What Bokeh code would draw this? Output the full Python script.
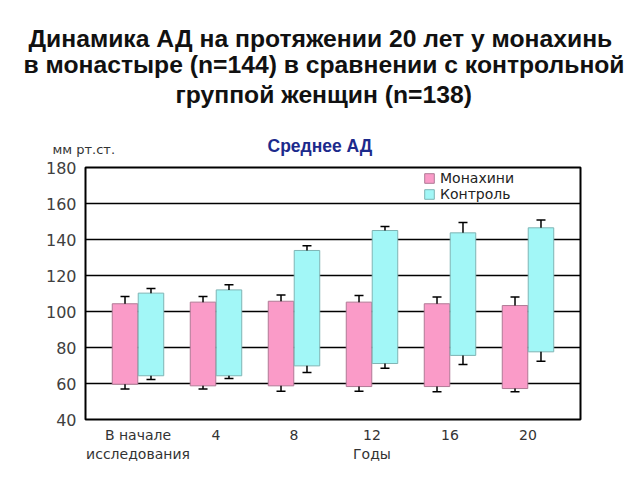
from bokeh.plotting import figure
from bokeh.models import (ColumnDataSource, Range1d, FixedTicker, Legend,
                          LegendItem, Whisker, TeeHead, Title)
from bokeh.transform import dodge
from bokeh.embed import file_html
from bokeh.resources import INLINE

# ---- data ----
categories = ["В начале\nисследования", "4", "8", "12", "16", "20"]
nuns_top = [104.3, 105.2, 105.7, 105.2, 104.3, 103.3]
nuns_bottom = [59.6, 58.7, 58.7, 58.3, 58.3, 57.2]
nuns_err_top = [108.3, 108.3, 109.1, 108.9, 108.0, 108.0]
nuns_err_bottom = [56.9, 56.9, 55.7, 55.7, 55.4, 55.4]
ctrl_top = [110.2, 112.0, 133.9, 145.0, 143.7, 146.5]
ctrl_bottom = [64.3, 64.3, 69.8, 71.1, 75.6, 77.6]
ctrl_err_top = [112.8, 114.8, 136.5, 147.2, 149.4, 150.9]
ctrl_err_bottom = [62.2, 62.8, 66.1, 68.5, 70.6, 72.4]
y_ticks = [40, 60, 80, 100, 120, 140, 160, 180]
x_title = "Годы"
y_title = "мм рт.ст."
sub_title = "Среднее АД"
title_lines = ["Динамика АД на протяжении 20 лет у монахинь",
               "в монастыре (n=144)  в сравнении с контрольной",
               "группой женщин (n=138)"]

# ---- layout (pixels) ----
W, H = 640, 480
FL, FR, FT, FB = 85, 580, 167, 419
YMIN, YMAX = 40, 180
UNIT = 78.0
XMIN = -52.5 / UNIT
XMAX = XMIN + (FR - FL) / UNIT

xs = list(range(len(categories)))
src = ColumnDataSource(dict(
    x=xs,
    nt=nuns_top, nb=nuns_bottom, net=nuns_err_top, neb=nuns_err_bottom,
    ct=ctrl_top, cb=ctrl_bottom, cet=ctrl_err_top, ceb=ctrl_err_bottom,
))

p = figure(width=W, height=H, output_backend="svg", toolbar_location=None,
           x_range=Range1d(XMIN, XMAX), y_range=Range1d(YMIN, YMAX),
           min_border_left=FL, min_border_right=W - FR,
           min_border_top=FT, min_border_bottom=H - FB,
           background_fill_color="white", border_fill_color="white")
p.outline_line_color = "black"
p.outline_line_width = 2

BW = 0.327
OFF = BW / 2 + 0.003
r_n = p.vbar(x=dodge("x", -OFF), width=BW, top="nt", bottom="nb", source=src,
             fill_color="#FA9BC8", line_color="#B07A95", line_width=1)
r_c = p.vbar(x=dodge("x", OFF), width=BW, top="ct", bottom="cb", source=src,
             fill_color="#A2F7F7", line_color="#7FB4B4", line_width=1)


def whiskers(off, bar_top, err_top, bar_bot, err_bot):
    w1 = Whisker(base=dodge("x", off), lower=bar_top, upper=err_top, source=src,
                 dimension="height", line_color="black", line_width=1.5,
                 upper_head=TeeHead(size=9, line_color="black", line_width=1.5),
                 lower_head=None, level="overlay")
    w2 = Whisker(base=dodge("x", off), lower=err_bot, upper=bar_bot, source=src,
                 dimension="height", line_color="black", line_width=1.5,
                 lower_head=TeeHead(size=9, line_color="black", line_width=1.5),
                 upper_head=None, level="overlay")
    p.add_layout(w1)
    p.add_layout(w2)


whiskers(-OFF, "nt", "net", "nb", "neb")
whiskers(OFF, "ct", "cet", "cb", "ceb")

# grid
p.xgrid.visible = False
p.ygrid.ticker = FixedTicker(ticks=y_ticks)
p.ygrid.grid_line_color = "black"
p.ygrid.grid_line_width = 1.6

# axes
p.yaxis.ticker = FixedTicker(ticks=y_ticks)
p.yaxis.axis_line_color = None
p.yaxis.major_tick_line_color = None
p.yaxis.minor_tick_line_color = None
p.yaxis.major_label_text_font = "DejaVu Sans"
p.yaxis.major_label_text_font_size = "16px"
p.yaxis.major_label_text_color = "#404040"
p.yaxis.major_label_standoff = 3

# the x-axis title sits under the "12" tick in the original, so it is
# appended as a second line of that tick label
labels = list(categories)
labels[3] = labels[3] + "\n" + x_title
p.xaxis.ticker = FixedTicker(ticks=xs)
p.xaxis.major_label_overrides = {i: c for i, c in zip(xs, labels)}
p.xaxis.axis_line_color = None
p.xaxis.major_tick_line_color = None
p.xaxis.minor_tick_line_color = None
p.xaxis.major_label_text_font = "DejaVu Sans"
p.xaxis.major_label_text_font_size = "14px"
p.xaxis.major_label_text_color = "#333333"
p.xaxis.major_label_standoff = 1

# legend
legend = Legend(items=[LegendItem(label="Монахини", renderers=[r_n]),
                       LegendItem(label="Контроль", renderers=[r_c])],
                location=(338, 217), border_line_color=None,
                background_fill_alpha=0, padding=2, spacing=0, margin=0,
                glyph_width=12, glyph_height=12, label_height=16,
                label_standoff=5,
                label_text_font="DejaVu Sans", label_text_font_size="14px",
                label_text_color="#222222")
p.add_layout(legend)

# header texts as Titles (closest to frame first)
p.add_layout(Title(text=y_title, align="left", offset=-33, standoff=22,
                   text_font="DejaVu Sans", text_font_style="normal",
                   text_font_size="13px", text_color="#333333"), "above")
p.add_layout(Title(text=sub_title, align="left", offset=182, standoff=-54,
                   text_font="Liberation Sans", text_font_style="bold",
                   text_font_size="17.5px", text_color="#1C2A8C"), "above")
line_offsets = [-57, -62, 90]
line_standoffs = [12, -40, 42]
for line, off, so in reversed(list(zip(title_lines, line_offsets, line_standoffs))):
    p.add_layout(Title(text=line, align="left", offset=off, standoff=so,
                       text_font="Liberation Sans",
                       text_font_style="bold", text_font_size="24.7px",
                       text_color="#111111"), "above")

open("out.html", "w").write(file_html(p, INLINE))
